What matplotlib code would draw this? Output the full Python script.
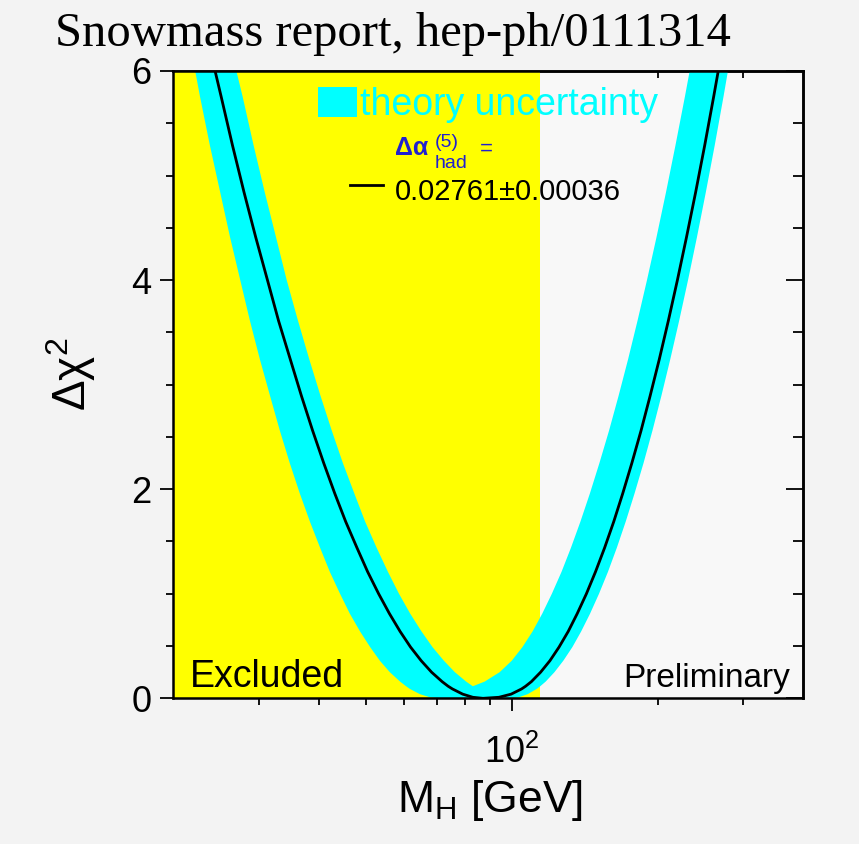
import matplotlib
matplotlib.use("Agg")
import matplotlib.pyplot as plt
from matplotlib.patches import Rectangle
from matplotlib.lines import Line2D
from matplotlib.ticker import FixedLocator, MultipleLocator, NullFormatter, NullLocator

plt.rcParams["font.family"] = ["Liberation Sans", "DejaVu Sans"]
plt.rcParams["mathtext.fontset"] = "custom"
plt.rcParams["mathtext.rm"] = "Liberation Sans"
plt.rcParams["mathtext.it"] = "Liberation Sans:italic"
plt.rcParams["mathtext.bf"] = "Liberation Sans:bold"

chi2_levels = [0, 0.01, 0.04, 0.09, 0.1156, 0.16, 0.25, 0.36, 0.49, 0.64,
               0.81, 1.0, 1.21, 1.44, 1.69, 1.96, 2.25, 2.56, 2.89, 3.24,
               3.61, 4.0, 4.41, 4.84, 5.29, 5.76, 6.0]

# central curve (black line), M_H in GeV left and right of the minimum
central_left = [87.2, 83.1, 79.2, 75.4, 73.9, 71.8, 68.3, 65.0, 61.8, 58.8,
                55.9, 53.1, 50.4, 47.9, 45.4, 43.1, 40.9, 38.8, 36.8, 34.9,
                33.0, 31.3, 29.6, 28.0, 26.5, 25.1, 24.4]
central_right = [87.2, 94.1, 99.7, 104.8, 106.8, 109.8, 114.7, 119.9, 125.2, 130.8,
                 136.5, 142.6, 148.9, 155.5, 162.4, 169.5, 177.0, 184.9, 193.0, 201.6,
                 210.5, 219.8, 229.5, 239.7, 250.3, 261.3, 266.9]

# theory uncertainty band, edges in GeV
band_left_outer = [71.1, 67.8, 64.6, 61.6, 60.5, 58.8, 56.0, 53.4, 51.0, 48.6,
                   46.3, 44.2, 42.1, 40.2, 38.3, 36.5, 34.8, 33.2, 31.7, 30.2,
                   28.8, 27.5, 26.2, 25.0, 23.8, 22.7, 22.2]
band_left_inner = [83.1, 83.1, 83.1, 83.1, 83.1, 80.5, 76.3, 72.4, 68.6, 65.1,
                   61.7, 58.5, 55.5, 52.6, 49.8, 47.3, 44.8, 42.5, 40.3, 38.2,
                   36.2, 34.3, 32.6, 30.9, 29.3, 27.8, 27.0]
band_right_inner = [83.1, 83.1, 83.1, 83.1, 83.1, 87.9, 94.4, 100.0, 105.2, 110.4,
                    115.6, 121.0, 126.7, 132.5, 138.6, 145.0, 151.7, 158.8, 166.1, 173.8,
                    181.8, 190.2, 199.0, 208.2, 217.8, 227.9, 233.0]
band_right_outer = [99.2, 103.4, 107.9, 112.6, 114.5, 117.5, 122.5, 127.8, 133.4, 139.1,
                    145.1, 151.4, 158.0, 164.8, 171.9, 179.3, 187.1, 195.2, 203.6, 212.4,
                    221.6, 231.2, 241.2, 251.6, 262.5, 273.8, 279.5]
v_index = 4  # level where the two inner edges meet

lep_limit = 114.4
x_range = (20, 400)
y_range = (0, 6)
x_minor_ticks = [30, 40, 50, 60, 70, 80, 90, 200, 300]
x_major_ticks = [100]
top_ticks = [200, 300]

YELLOW = "#ffff00"
CYAN = "#00ffff"
BLUE = "#2020d0"

fig = plt.figure(figsize=(8.59, 8.44), dpi=100, facecolor="#f3f3f3")
ax = fig.add_axes([0.2017, 0.1726, 0.7335, 0.7433])
ax.set_facecolor("#f8f8f8")
ax.set_xscale("log")
ax.set_xlim(*x_range)
ax.set_ylim(*y_range)

# excluded region
ax.axvspan(x_range[0], lep_limit, color=YELLOW, lw=0, zorder=0.5)

# band as one polygon: outer edges, then the inner edges down to the V and back up
band_x = (band_left_outer[::-1] + band_right_outer
          + band_right_inner[v_index:][::-1] + band_left_inner[v_index + 1:])
band_y = (chi2_levels[::-1] + chi2_levels
          + chi2_levels[v_index:][::-1] + chi2_levels[v_index + 1:])
ax.fill(band_x, band_y, color=CYAN, lw=0, zorder=1)

central_x = central_left[::-1] + central_right[1:]
central_y = chi2_levels[::-1] + chi2_levels[1:]
ax.plot(central_x, central_y, color="black", lw=2.0, zorder=2)

# ticks
ax.xaxis.set_major_locator(FixedLocator(x_major_ticks))
ax.xaxis.set_minor_locator(FixedLocator(x_minor_ticks))
ax.xaxis.set_minor_formatter(NullFormatter())
ax.yaxis.set_major_locator(MultipleLocator(2))
ax.yaxis.set_minor_locator(MultipleLocator(0.5))
ax.tick_params(which="both", direction="out", top=False, right=False, width=1.3,
               labelsize=26)
ax.tick_params(which="major", length=9.5)
ax.tick_params(which="minor", length=5)
ax.tick_params(axis="y", pad=6)
ax.tick_params(axis="x", pad=17)
for sp in ax.spines.values():
    sp.set_linewidth(1.8)
    sp.set_zorder(5)

secx = ax.secondary_xaxis("top")
secx.xaxis.set_major_locator(FixedLocator(top_ticks))
secx.xaxis.set_minor_locator(NullLocator())
secx.tick_params(direction="in", length=5, width=1.3, labeltop=False)
secx.spines["top"].set_linewidth(1.8)

secy = ax.secondary_yaxis("right")
secy.yaxis.set_major_locator(MultipleLocator(2))
secy.yaxis.set_minor_locator(MultipleLocator(0.5))
secy.tick_params(which="both", direction="in", width=1.3, labelright=False)
secy.tick_params(which="major", length=12)
secy.tick_params(which="minor", length=7)
secy.spines["right"].set_linewidth(1.8)

# legend
ax.add_patch(Rectangle((0.2297, 0.9267), 0.0617, 0.0478, transform=ax.transAxes,
                       color=CYAN, lw=0, zorder=3))
ax.text(0.2963, 0.9299, "theory uncertainty", transform=ax.transAxes, color=CYAN,
        fontsize=27, va="baseline", ha="left", zorder=3)
ax.text(0.3519, 0.8661, "\u0394\u03b1", transform=ax.transAxes, color=BLUE,
        fontsize=18, fontweight="bold", va="baseline", ha="left", zorder=3)
ax.text(0.4154, 0.8788, "(5)", transform=ax.transAxes, color=BLUE,
        fontsize=14, va="baseline", ha="left", zorder=3)
ax.text(0.4154, 0.8459, "had", transform=ax.transAxes, color=BLUE,
        fontsize=14, va="baseline", ha="left", zorder=3)
ax.text(0.4868, 0.8661, "=", transform=ax.transAxes, color=BLUE,
        fontsize=16, va="baseline", ha="left", zorder=3)
ax.add_line(Line2D([0.2805, 0.3329], [0.8183, 0.8183], transform=ax.transAxes,
                   color="black", lw=2.0, zorder=3))
ax.text(0.3519, 0.7944, "0.02761\u00b10.00036", transform=ax.transAxes,
        color="black", fontsize=21, va="baseline", ha="left", zorder=3)

ax.text(0.0265, 0.018, "Excluded", transform=ax.transAxes, fontsize=27,
        va="baseline", ha="left", zorder=3)
ax.text(0.979, 0.018, "Preliminary", transform=ax.transAxes, fontsize=24,
        va="baseline", ha="right", zorder=3)

# axis titles and header
fig.text(0.083, 0.556, r"$\mathrm{\Delta\chi}^{2}$", rotation=90, fontsize=33,
         ha="center", va="center")
fig.text(0.570, 0.038, r"$\mathrm{M}_{\mathrm{H}}$ [GeV]", fontsize=32,
         ha="center", va="baseline")
fig.text(0.457, 0.9455, "Snowmass report, hep-ph/0111314",
         family="Liberation Serif", fontsize=35, ha="center", va="baseline")

fig.savefig("out.png", dpi=100, facecolor=fig.get_facecolor())
